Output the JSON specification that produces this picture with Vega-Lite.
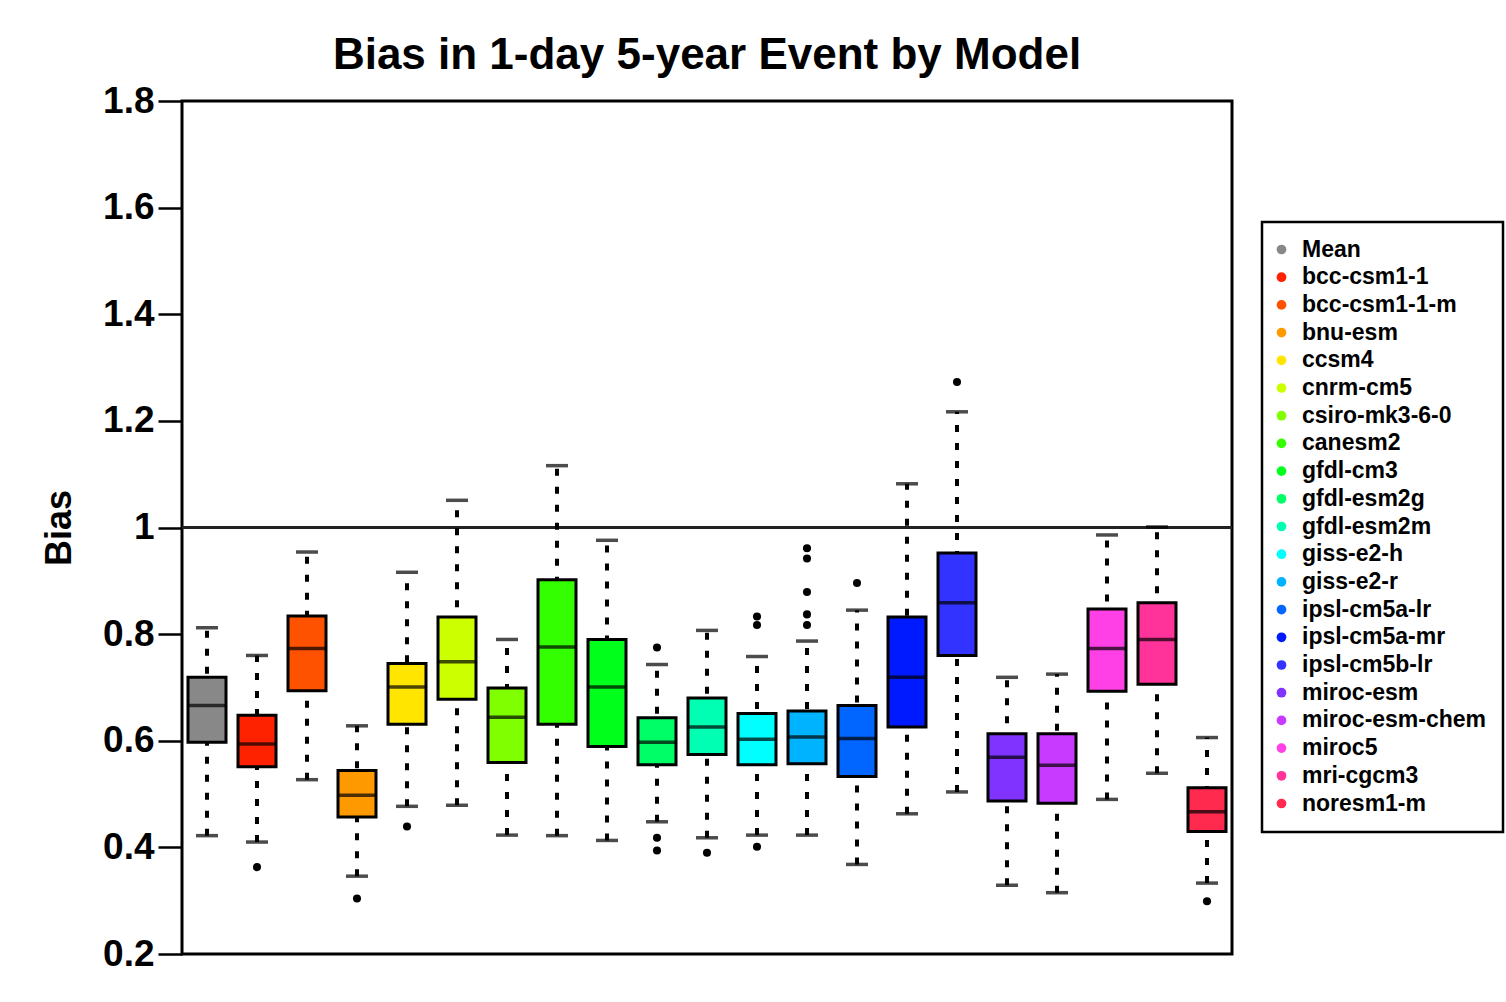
{
  "$schema": "https://vega.github.io/schema/vega-lite/v6.json",
  "autosize": {"type": "none"},
  "width": 1050,
  "height": 853,
  "padding": {"left": 182, "top": 101, "right": 274, "bottom": 48},
  "background": "white",
  "title": {"text": "Bias in 1-day 5-year Event by Model", "fontSize": 44, "fontWeight": "bold", "font": "Liberation Sans", "color": "black", "anchor": "middle", "frame": "group", "offset": 4},
  "datasets": {
    "boxes": [
      {"model": "Mean", "lo": 0.422, "q1": 0.597, "med": 0.666, "q3": 0.719, "hi": 0.812},
      {"model": "bcc-csm1-1", "lo": 0.410, "q1": 0.551, "med": 0.594, "q3": 0.648, "hi": 0.760},
      {"model": "bcc-csm1-1-m", "lo": 0.527, "q1": 0.694, "med": 0.773, "q3": 0.834, "hi": 0.954},
      {"model": "bnu-esm", "lo": 0.346, "q1": 0.457, "med": 0.498, "q3": 0.544, "hi": 0.628},
      {"model": "ccsm4", "lo": 0.477, "q1": 0.631, "med": 0.701, "q3": 0.745, "hi": 0.916},
      {"model": "cnrm-cm5", "lo": 0.479, "q1": 0.678, "med": 0.748, "q3": 0.832, "hi": 1.051},
      {"model": "csiro-mk3-6-0", "lo": 0.423, "q1": 0.559, "med": 0.644, "q3": 0.699, "hi": 0.790},
      {"model": "canesm2", "lo": 0.422, "q1": 0.631, "med": 0.776, "q3": 0.902, "hi": 1.116},
      {"model": "gfdl-cm3", "lo": 0.413, "q1": 0.589, "med": 0.701, "q3": 0.790, "hi": 0.976},
      {"model": "gfdl-esm2g", "lo": 0.448, "q1": 0.555, "med": 0.597, "q3": 0.643, "hi": 0.743},
      {"model": "gfdl-esm2m", "lo": 0.418, "q1": 0.574, "med": 0.626, "q3": 0.680, "hi": 0.807},
      {"model": "giss-e2-h", "lo": 0.423, "q1": 0.555, "med": 0.603, "q3": 0.651, "hi": 0.758},
      {"model": "giss-e2-r", "lo": 0.423, "q1": 0.557, "med": 0.607, "q3": 0.656, "hi": 0.787},
      {"model": "ipsl-cm5a-lr", "lo": 0.368, "q1": 0.533, "med": 0.604, "q3": 0.666, "hi": 0.845},
      {"model": "ipsl-cm5a-mr", "lo": 0.463, "q1": 0.626, "med": 0.719, "q3": 0.832, "hi": 1.082},
      {"model": "ipsl-cm5b-lr", "lo": 0.504, "q1": 0.760, "med": 0.859, "q3": 0.952, "hi": 1.217},
      {"model": "miroc-esm", "lo": 0.329, "q1": 0.487, "med": 0.569, "q3": 0.613, "hi": 0.719},
      {"model": "miroc-esm-chem", "lo": 0.315, "q1": 0.483, "med": 0.554, "q3": 0.613, "hi": 0.725},
      {"model": "miroc5", "lo": 0.490, "q1": 0.693, "med": 0.773, "q3": 0.847, "hi": 0.986},
      {"model": "mri-cgcm3", "lo": 0.539, "q1": 0.706, "med": 0.790, "q3": 0.859, "hi": 1.001},
      {"model": "noresm1-m", "lo": 0.333, "q1": 0.430, "med": 0.467, "q3": 0.512, "hi": 0.606}
    ],
    "outliers": [
      {"model": "bcc-csm1-1", "v": 0.363},
      {"model": "bnu-esm", "v": 0.304},
      {"model": "ccsm4", "v": 0.439},
      {"model": "gfdl-esm2g", "v": 0.775},
      {"model": "gfdl-esm2g", "v": 0.418},
      {"model": "gfdl-esm2g", "v": 0.394},
      {"model": "gfdl-esm2m", "v": 0.390},
      {"model": "giss-e2-h", "v": 0.833},
      {"model": "giss-e2-h", "v": 0.817},
      {"model": "giss-e2-h", "v": 0.401},
      {"model": "giss-e2-r", "v": 0.961},
      {"model": "giss-e2-r", "v": 0.942},
      {"model": "giss-e2-r", "v": 0.879},
      {"model": "giss-e2-r", "v": 0.837},
      {"model": "giss-e2-r", "v": 0.817},
      {"model": "ipsl-cm5a-lr", "v": 0.896},
      {"model": "ipsl-cm5b-lr", "v": 1.273},
      {"model": "noresm1-m", "v": 0.299}
    ]
  },
  "data": {"name": "boxes"},
  "encoding": {
    "x": {
      "field": "model", "type": "nominal", "sort": null, "axis": null,
      "scale": {"paddingInner": 0.24, "paddingOuter": 0.12,
        "domain": ["Mean","bcc-csm1-1","bcc-csm1-1-m","bnu-esm","ccsm4","cnrm-cm5","csiro-mk3-6-0","canesm2","gfdl-cm3","gfdl-esm2g","gfdl-esm2m","giss-e2-h","giss-e2-r","ipsl-cm5a-lr","ipsl-cm5a-mr","ipsl-cm5b-lr","miroc-esm","miroc-esm-chem","miroc5","mri-cgcm3","noresm1-m"]}
    }
  },
  "layer": [
    {
      "mark": {"type": "rule", "color": "#222222", "strokeWidth": 2.5},
      "encoding": {"x": null, "y": {"datum": 1, "type": "quantitative"}}
    },
    {
      "mark": {"type": "rule", "color": "black", "strokeWidth": 4, "strokeDash": [7, 11]},
      "encoding": {
        "y": {"field": "lo", "type": "quantitative",
          "scale": {"domain": [0.2, 1.8], "nice": false, "zero": false},
          "axis": {"title": "Bias", "values": [0.2,0.4,0.6,0.8,1,1.2,1.4,1.6,1.8], "format": ".1~f"}},
        "y2": {"field": "hi"}
      }
    },
    {
      "mark": {"type": "tick", "color": "black", "size": 22, "thickness": 3.5},
      "encoding": {"y": {"field": "lo", "type": "quantitative"}}
    },
    {
      "mark": {"type": "tick", "color": "black", "size": 22, "thickness": 3.5},
      "encoding": {"y": {"field": "hi", "type": "quantitative"}}
    },
    {
      "mark": {"type": "bar", "size": 38, "stroke": "black", "strokeWidth": 3, "opacity": 1},
      "encoding": {
        "y": {"field": "q1", "type": "quantitative"},
        "y2": {"field": "q3"},
        "color": {
          "field": "model", "type": "nominal",
          "scale": {
            "domain": ["Mean","bcc-csm1-1","bcc-csm1-1-m","bnu-esm","ccsm4","cnrm-cm5","csiro-mk3-6-0","canesm2","gfdl-cm3","gfdl-esm2g","gfdl-esm2m","giss-e2-h","giss-e2-r","ipsl-cm5a-lr","ipsl-cm5a-mr","ipsl-cm5b-lr","miroc-esm","miroc-esm-chem","miroc5","mri-cgcm3","noresm1-m"],
            "range": ["#888888","#FF2200","#FF5200","#FF9900","#FFE500","#CCFF00","#80FF00","#33FF00","#00FF1A","#00FF66","#00FFB2","#00FFFF","#00B3FF","#0066FF","#001AFF","#3333FF","#8033FF","#C83AFF","#FF40E6","#FF3399","#FF2A4D"]
          },
          "legend": {
            "title": null, "orient": "none", "legendX": 1080, "legendY": 121,
            "padding": 16, "rowPadding": 3.7, "labelFontSize": 23, "labelFontWeight": "bold",
            "labelFont": "Liberation Sans", "labelColor": "black", "labelLimit": 400, "labelOffset": 9,
            "symbolType": "circle", "symbolSize": 95, "symbolOffset": -8, "symbolStrokeWidth": 0, "symbolOpacity": 1,
            "strokeColor": "black", "fillColor": "white"
          }
        }
      }
    },
    {
      "mark": {"type": "tick", "color": "black", "size": 38, "thickness": 3.5},
      "encoding": {"y": {"field": "med", "type": "quantitative"}}
    },
    {
      "data": {"name": "outliers"},
      "mark": {"type": "point", "filled": true, "color": "black", "size": 65, "opacity": 1},
      "encoding": {"y": {"field": "v", "type": "quantitative"}}
    }
  ],
  "config": {
    "font": "Liberation Sans",
    "view": {"stroke": "black", "strokeWidth": 3},
    "axisY": {
      "domain": false, "grid": false,
      "tickColor": "black", "tickWidth": 2.5, "tickSize": 24,
      "labelFontSize": 37, "labelFontWeight": "bold", "labelColor": "black", "labelPadding": 4,
      "titleFontSize": 36, "titleFontWeight": "bold", "titleColor": "black", "titlePadding": 24
    },
    "legend": {"strokeWidth": 2.5}
  }
}
